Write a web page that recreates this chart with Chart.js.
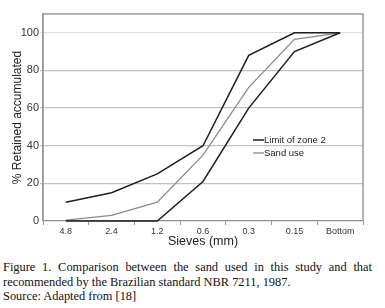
<!DOCTYPE html>
<html>
<head>
<meta charset="utf-8">
<script src="https://cdn.jsdelivr.net/npm/chart.js@4"></script>
<style>
  body { margin: 0; background: #fff; width: 385px; height: 308px; overflow: hidden; position: relative; }
  #wrap { position: absolute; left: 0; top: 0; width: 385px; height: 250px; }
  #caption {
    position: absolute; left: 3px; top: 260px; width: 369px;
    font-family: "Liberation Serif", "Times New Roman", serif;
    font-size: 12.4px; line-height: 14.5px; color: #111; text-align: justify;
  }
</style>
</head>
<body>
<div id="wrap"><canvas id="chart" width="385" height="250"></canvas></div>
<div id="caption">Figure 1. Comparison between the sand used in this study and that recommended by the Brazilian standard NBR 7211, 1987.<br>Source: Adapted from [18]</div>
<script>
const sieves = ["4.8", "2.4", "1.2", "0.6", "0.3", "0.15", "Bottom"];
const upperLimit = [10, 15, 25, 40, 88, 100, 100];
const lowerLimit = [0, 0, 0, 21, 60, 90, 100];
const sandUse = [0.5, 3, 10, 35, 71, 96.5, 100];
const yTicks = [0, 20, 40, 60, 80, 100];

// box around the plot + legend inside the plot
const frameAndLegend = {
    id: "frameAndLegend",
    afterDatasetsDraw(chart) {
        const ctx = chart.ctx;
        const a = chart.chartArea;
        ctx.save();
        ctx.strokeStyle = "#9a9a9a";
        ctx.lineWidth = 1.5;
        ctx.beginPath();
        ctx.moveTo(a.left, a.bottom);
        ctx.lineTo(a.left, a.top);
        ctx.lineTo(a.right, a.top);
        ctx.lineTo(a.right, a.bottom);
        ctx.stroke();

        const items = [chart.data.datasets[0], chart.data.datasets[2]];
        ctx.font = "9.5px 'Liberation Sans', Arial, sans-serif";
        ctx.textBaseline = "middle";
        items.forEach((ds, i) => {
            const y = 140 + i * 13;
            ctx.strokeStyle = ds.borderColor;
            ctx.lineWidth = ds.borderWidth;
            ctx.beginPath();
            ctx.moveTo(253, y);
            ctx.lineTo(264, y);
            ctx.stroke();
            ctx.fillStyle = "#222";
            ctx.fillText(ds.label, 264, y);
        });
        ctx.restore();
    }
};

new Chart(document.getElementById("chart"), {
    type: "line",
    data: {
        labels: sieves,
        datasets: [
            { label: "Limit of zone 2", data: upperLimit, borderColor: "#1e1e1e", borderWidth: 1.5, pointRadius: 0, tension: 0, clip: 4 },
            { label: "Limit of zone 2 (lower)", data: lowerLimit, borderColor: "#1e1e1e", borderWidth: 1.5, pointRadius: 0, tension: 0, clip: 4 },
            { label: "Sand use", data: sandUse, borderColor: "#8a8a8a", borderWidth: 1.3, pointRadius: 0, tension: 0, clip: 4 }
        ]
    },
    options: {
        responsive: false,
        animation: false,
        layout: { padding: { left: 0, top: 14, right: 22, bottom: 0 } },
        plugins: {
            legend: { display: false },
            tooltip: { enabled: false }
        },
        scales: {
            x: {
                offset: true,
                afterFit: s => { s.height = 29; },
                grid: { offset: true, drawOnChartArea: false, tickLength: 4, color: "#999" },
                border: { color: "#8c8c8c", width: 1.2 },
                ticks: {
                    color: "#333", padding: 1, maxRotation: 0,
                    font: { family: "'Liberation Sans Narrow', 'Liberation Sans', Arial", size: 9 }
                },
                title: {
                    display: true, text: "Sieves (mm)", color: "#222",
                    font: { family: "'Liberation Sans', Arial", size: 12.5 },
                    padding: { top: 0, bottom: 1 }
                }
            },
            y: {
                min: 0, max: 110,
                afterFit: s => { s.width = 43; },
                afterBuildTicks: s => { s.ticks = yTicks.map(v => ({ value: v })); },
                grid: {
                    tickLength: 3,
                    color: c => c.tick.value === 100 ? "#e0e0e0" : (c.tick.value === 0 ? "rgba(0,0,0,0)" : "#c2c2c2"),
                    lineWidth: 1.2
                },
                border: { color: "#9a9a9a", width: 1.5 },
                ticks: {
                    color: "#333", padding: 1,
                    font: { family: "'Liberation Sans', Arial", size: 11 }
                },
                title: {
                    display: true, text: "% Retained accumulated", color: "#222",
                    font: { family: "'Liberation Sans', Arial", size: 12 },
                    padding: { top: 10, bottom: 0 }
                }
            }
        }
    },
    plugins: [frameAndLegend]
});
</script>
</body>
</html>
